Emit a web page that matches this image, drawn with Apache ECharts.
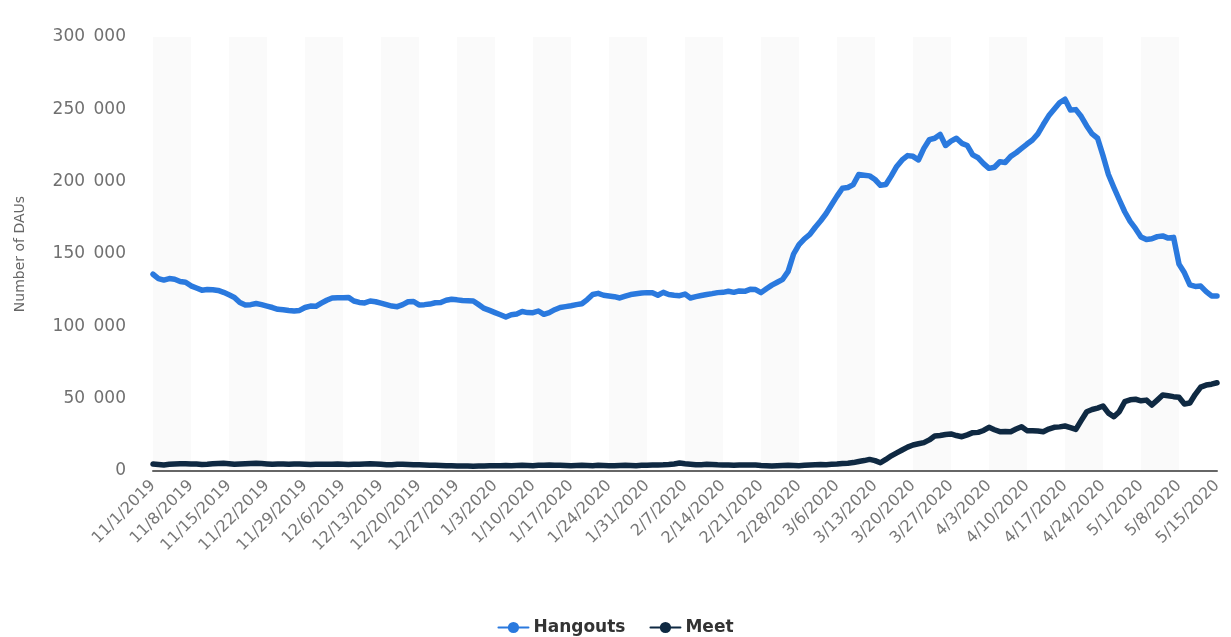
<!DOCTYPE html>
<html>
<head>
<meta charset="utf-8">
<script src="https://cdn.jsdelivr.net/npm/echarts@6/dist/echarts.min.js"></script>
<style>html,body{margin:0;padding:0;background:#fff;}#chart{width:1231px;height:637px;}</style>
</head>
<body>
<div id="chart"></div>
<script>
// Categories: daily dates from 11/1/2019 to 5/15/2020
const startDate = [2019, 10, 1];
const dayCount = 197;
const categories = [];
for (let i = 0; i < dayCount; i++) {
  const d = new Date(startDate[0], startDate[1], startDate[2] + i);
  categories.push((d.getMonth() + 1) + '/' + d.getDate() + '/' + d.getFullYear());
}

const seriesNames = ['Hangouts', 'Meet'];

const hangouts = [
136000,133000,132000,133000,132500,131000,130500,128000,126500,125000,
125500,125300,124800,123500,121800,120000,116500,114800,115000,115800,
115000,114000,113000,111800,111500,111000,110600,111000,113000,114000,
113800,116000,118000,119600,119800,119800,120000,117500,116500,116200,
117500,117000,116000,115000,114000,113600,115000,117000,117200,114800,
115000,115400,116300,116500,118000,118700,118300,117800,117700,117500,
115000,112400,111000,109500,108000,106400,108000,108500,110200,109500,
109400,110600,108300,109500,111500,113000,113600,114200,115000,115600,
118500,122000,122800,121500,121000,120500,119600,120800,122000,122500,
123000,123300,123200,121500,123500,122000,121500,121200,122300,119600,
120500,121300,122000,122600,123300,123500,124200,123500,124500,124200,
125600,125400,123300,126000,128500,130500,132500,138000,150000,156500,
160500,163500,168500,173000,178000,184000,190000,195500,196000,198000,
205000,204500,204000,201500,197500,198000,204000,210500,215000,218000,
217500,215000,223000,229000,230000,232700,225000,228000,230000,226500,
225000,218500,216500,212500,209200,210000,213800,213300,217500,220000,
223000,226000,228800,233000,239500,245500,250000,254500,257000,249500,
249800,245000,238500,233000,230000,218000,205000,196000,187500,179200,
172500,167500,161800,160000,160500,162000,162500,161000,161500,143000,
137000,128600,127600,127800,124000,121000,121000
];

const meet = [
4800,4500,4200,4600,4900,5000,5000,4900,4800,4500,
4700,5000,5200,5300,5000,4600,4800,5000,5200,5300,
5200,4900,4600,4800,4900,4700,4800,4900,4700,4500,
4600,4600,4700,4700,4900,4700,4500,4600,4700,4900,
5000,4800,4600,4400,4300,4700,4600,4500,4400,4300,
4200,4000,3900,3800,3700,3600,3500,3500,3400,3200,
3400,3500,3600,3600,3700,3800,3700,3800,3900,3800,
3700,3900,4000,4100,4000,3900,3800,3700,3800,3900,
3800,3700,3900,3800,3700,3600,3800,3900,3800,3700,
3900,4000,4100,4200,4300,4500,4800,5500,5000,4700,
4400,4400,4600,4500,4300,4200,4100,4000,4100,4200,
4200,4100,3800,3600,3400,3600,3800,3900,3800,3700,
3900,4100,4300,4500,4400,4600,4800,5200,5400,5800,
6600,7200,8000,7200,5700,8000,10500,12500,14500,16500,
18000,18800,19600,21500,24200,24500,25200,25600,24500,23700,
25000,26500,26700,28000,30200,28500,27200,27300,27200,29000,
30600,27900,27800,27600,27200,29000,30200,30500,31100,30000,
28800,35000,41000,42500,43500,44900,40000,37500,41000,47900,
49200,49600,48500,49000,45600,49000,52500,52000,51400,51000,
46300,47000,53000,58000,59400,60000,61000
];

const yTicks = { min: 0, max: 300000, interval: 50000 };
const labelStep = 7;

const chart = echarts.init(document.getElementById('chart'));
const font = "'DejaVu Sans', Verdana, sans-serif";
chart.setOption({
  animation: false,
  textStyle: { fontFamily: font },
  grid: { left: 153, right: 14, top: 37, bottom: 166 },
  legend: {
    data: seriesNames,
    left: 'center',
    top: 614,
    itemWidth: 30,
    itemHeight: 14,
    itemGap: 24,
    textStyle: { fontSize: 17, fontWeight: 'bold', color: '#333', fontFamily: font }
  },
  xAxis: {
    type: 'category',
    data: categories,
    boundaryGap: false,
    axisLine: { show: true, lineStyle: { color: '#666', width: 2 } },
    axisTick: { show: false, interval: labelStep - 1 },
    axisLabel: {
      interval: labelStep - 1,
      rotate: 45,
      color: '#777',
      fontSize: 16,
      margin: 12,
      fontFamily: font
    },
    splitLine: { show: false },
    splitArea: {
      show: true,
      interval: labelStep - 1,
      areaStyle: { color: ['#fafafa', '#ffffff'] }
    }
  },
  yAxis: {
    type: 'value',
    min: yTicks.min,
    max: yTicks.max,
    interval: yTicks.interval,
    name: 'Number of DAUs',
    nameLocation: 'middle',
    nameGap: 126,
    nameTextStyle: { color: '#666', fontSize: 14, fontFamily: font },
    axisLine: { show: false },
    axisTick: { show: false },
    axisLabel: {
      color: '#707070',
      fontSize: 17,
      margin: 27,
      fontFamily: font,
      formatter: v => String(v).replace(/\B(?=(\d{3})+(?!\d))/g, '\u2002')
    },
    splitLine: { show: true, lineStyle: { color: '#c8c8c8', type: [2, 2], width: 1 } }
  },
  series: [
    {
      name: seriesNames[0],
      type: 'line',
      data: hangouts,
      showSymbol: false,
      symbol: 'circle',
      symbolSize: 9,
      lineStyle: { width: 5.5, color: '#2a79de', join: 'round', cap: 'round' },
      itemStyle: { color: '#2a79de' },
      z: 3
    },
    {
      name: seriesNames[1],
      type: 'line',
      data: meet,
      showSymbol: false,
      symbol: 'circle',
      symbolSize: 9,
      lineStyle: { width: 5.5, color: '#0f2942', join: 'round', cap: 'round' },
      itemStyle: { color: '#0f2942' },
      z: 4
    }
  ]
});
</script>
</body>
</html>
